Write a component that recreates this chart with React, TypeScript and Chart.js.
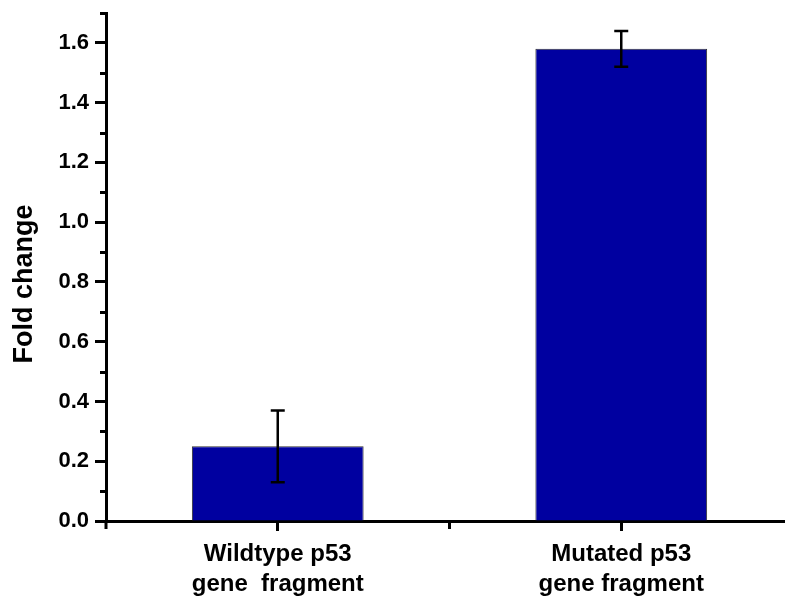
import React, { useEffect, useRef } from "react";
import { Chart, registerables } from "chart.js";

Chart.register(...registerables);

const categories: string[][] = [
  ["Wildtype p53", "gene  fragment"],
  ["Mutated p53", "gene fragment"],
];
const foldChange: number[] = [0.25, 1.58];
const errors: number[] = [0.12, 0.06];
const yMajorTicks: number[] = [0, 0.2, 0.4, 0.6, 0.8, 1.0, 1.2, 1.4, 1.6];
const yMinorTicks: number[] = [0.1, 0.3, 0.5, 0.7, 0.9, 1.1, 1.3, 1.5, 1.7];
const yTitle = "Fold change";

const FONT = "'Liberation Sans', Arial, sans-serif";

const extrasPlugin = {
  id: "extras",
  afterDatasetsDraw(chart: any) {
    const ctx = chart.ctx;
    const y = chart.scales.y;
    const meta = chart.getDatasetMeta(0);
    ctx.save();
    ctx.strokeStyle = "#000";
    ctx.lineWidth = 2.5;
    meta.data.forEach((bar: any, i: number) => {
      const cx = bar.x;
      const top = y.getPixelForValue(foldChange[i] + errors[i]);
      const bot = y.getPixelForValue(foldChange[i] - errors[i]);
      ctx.beginPath();
      ctx.moveTo(cx, top);
      ctx.lineTo(cx, bot);
      ctx.moveTo(cx - 7, top);
      ctx.lineTo(cx + 7, top);
      ctx.moveTo(cx - 7, bot);
      ctx.lineTo(cx + 7, bot);
      ctx.stroke();
    });
    ctx.restore();
  },
  afterDraw(chart: any) {
    const ctx = chart.ctx;
    const x = chart.scales.x;
    const y = chart.scales.y;
    const area = chart.chartArea;
    ctx.save();
    ctx.strokeStyle = "#000";
    ctx.lineWidth = 3;
    yMinorTicks.forEach((v) => {
      const py = Math.round(y.getPixelForValue(v)) + 0.5;
      ctx.beginPath();
      ctx.moveTo(area.left - 6, py);
      ctx.lineTo(area.left, py);
      ctx.stroke();
    });
    const n = categories.length;
    for (let i = 0; i <= n; i++) {
      const px = x.getPixelForValue(i - 0.5);
      ctx.beginPath();
      ctx.moveTo(px, area.bottom);
      ctx.lineTo(px, area.bottom + 8);
      ctx.stroke();
    }
    ctx.fillStyle = "#000";
    ctx.font = `bold 27px ${FONT}`;
    ctx.textAlign = "center";
    ctx.textBaseline = "middle";
    ctx.translate(25, 284);
    ctx.rotate(-Math.PI / 2);
    ctx.fillText(yTitle, 0, 0);
    ctx.restore();
  },
};

export default function App() {
  const ref = useRef<HTMLCanvasElement | null>(null);
  useEffect(() => {
    if (!ref.current) return;
    const chart = new Chart(ref.current, {
      type: "bar",
      data: {
        labels: categories,
        datasets: [
          {
            data: foldChange,
            backgroundColor: "#0000A0",
            borderColor: "#333",
            borderWidth: 1,
            categoryPercentage: 1,
            barPercentage: 0.5,
          },
        ],
      },
      options: {
        responsive: false,
        animation: false,
        devicePixelRatio: 1,
        layout: { padding: { top: 13, right: 7, left: 0, bottom: 0 } },
        plugins: {
          legend: { display: false },
          tooltip: { enabled: false },
          title: { display: false },
        },
        scales: {
          x: {
            type: "category",
            offset: true,
            afterFit: (s: any) => {
              s.height = 81;
              s.paddingLeft = 0;
              s.paddingRight = 0;
            },
            border: { display: true, width: 3, color: "#000" },
            grid: {
              offset: false,
              drawOnChartArea: false,
              drawTicks: true,
              tickLength: 10,
              tickWidth: 3,
              tickColor: "#000",
            },
            ticks: {
              color: "#000",
              font: { family: FONT, size: 24, weight: "bold", lineHeight: 1.25 },
              padding: 8,
              maxRotation: 0,
              autoSkip: false,
            },
          },
          y: {
            min: 0,
            max: 1.7,
            afterFit: (s: any) => {
              s.width = 106;
              s.paddingTop = 0;
              s.paddingBottom = 0;
            },
            afterBuildTicks: (s: any) => {
              s.ticks = yMajorTicks.map((v) => ({ value: v }));
            },
            border: { display: true, width: 3, color: "#000" },
            grid: {
              drawOnChartArea: false,
              drawTicks: true,
              tickLength: 11,
              tickWidth: 3,
              tickColor: "#000",
            },
            ticks: {
              color: "#000",
              font: { family: FONT, size: 22, weight: "bold" },
              padding: 6,
              callback: (v: any) => Number(v).toFixed(1),
            },
          },
        },
      },
      plugins: [extrasPlugin],
    });
    return () => chart.destroy();
  }, []);
  return (
    <div
      style={{
        position: "fixed",
        left: 0,
        top: 0,
        width: 785,
        height: 602,
        overflow: "hidden",
        background: "#fff",
      }}
    >
      <canvas ref={ref} width={800} height={602} style={{ width: 800, height: 602 }} />
    </div>
  );
}
